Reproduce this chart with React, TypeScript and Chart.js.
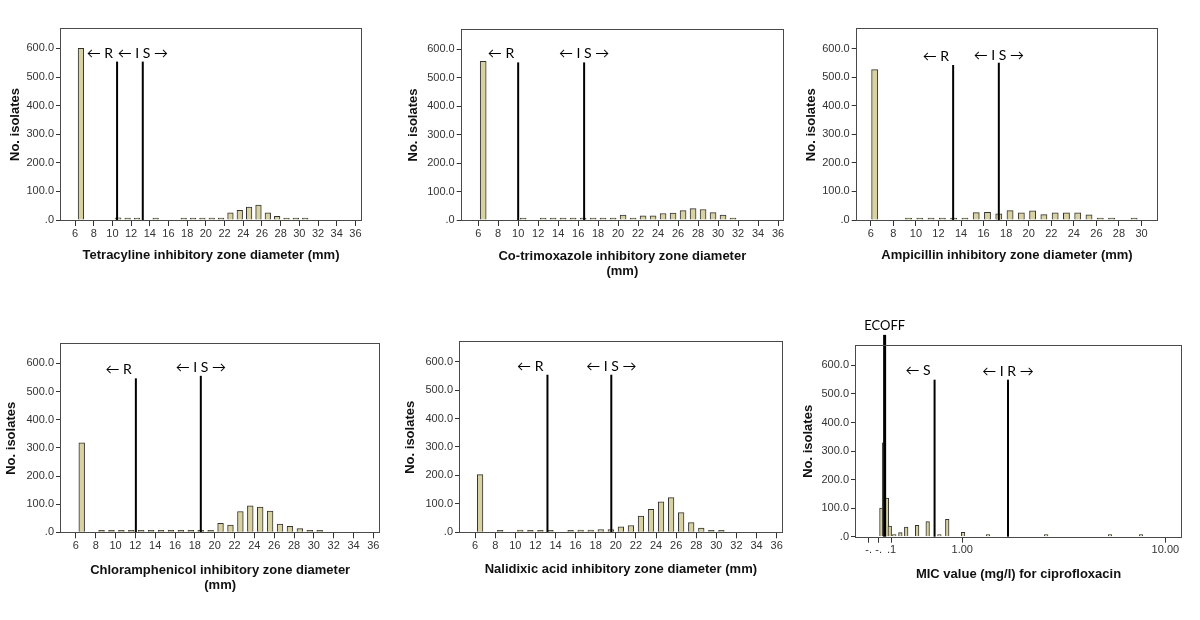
import React, { useEffect, useRef } from "react";
import { Chart, registerables } from "chart.js";

Chart.register(...registerables);
Chart.defaults.font.family = "'Liberation Sans', Arial, sans-serif";

// ---------------- data ----------------
const zoneDiameters = [6, 7, 8, 9, 10, 11, 12, 13, 14, 15, 16, 17, 18, 19, 20, 21, 22, 23, 24, 25, 26, 27, 28, 29, 30, 31, 32, 33, 34, 35, 36];
const ampicillinDiameters = [6, 7, 8, 9, 10, 11, 12, 13, 14, 15, 16, 17, 18, 19, 20, 21, 22, 23, 24, 25, 26, 27, 28, 29, 30];
const zoneTicks = [6, 8, 10, 12, 14, 16, 18, 20, 22, 24, 26, 28, 30, 32, 34, 36];
const ampicillinTicks = [6, 8, 10, 12, 14, 16, 18, 20, 22, 24, 26, 28, 30];
const countTicks = [0, 100, 200, 300, 400, 500, 600];

const tetracyclineCounts = [600, 0, 0, 0, 8, 3, 3, 0, 2, 0, 0, 1, 2, 2, 5, 2, 25, 34, 45, 52, 25, 13, 2, 2, 1, 0, 0, 0, 0, 0, 0];
const cotrimoxazoleCounts = [558, 0, 0, 0, 3, 0, 1, 1, 1, 1, 3, 4, 2, 4, 17, 3, 15, 15, 23, 24, 33, 40, 37, 26, 17, 1, 0, 0, 0, 0, 0];
const ampicillinCounts = [527, 0, 0, 1, 1, 1, 1, 2, 6, 26, 27, 22, 33, 25, 32, 19, 25, 25, 25, 18, 4, 6, 0, 2, 0];
const chloramphenicolCounts = [318, 0, 4, 1, 4, 1, 1, 2, 1, 2, 1, 1, 4, 7, 32, 26, 74, 94, 90, 75, 29, 21, 13, 1, 3, 0, 0, 0, 0, 0, 0];
const nalidixicCounts = [203, 0, 2, 0, 8, 1, 3, 1, 0, 2, 8, 8, 10, 10, 19, 24, 57, 81, 107, 122, 69, 34, 15, 6, 4, 0, 0, 0, 0, 0, 0];

const micValues = [0.4, 0.412, 0.426, 0.44, 0.463, 0.496, 0.53, 0.6, 0.676, 0.772, 0.844, 1.01, 1.34, 2.59, 5.34, 7.59];
const micCounts = [100, 329, 135, 37, 6, 14, 34, 40, 53, 2, 61, 15, 4, 3, 1, 1];
const micTickValues = [0.346, 0.388, 0.449, 1, 10];
const micTickLabels = ["-.", "-.", ".1", "1.00", "10.00"];

const tetracyclineBreaks = [10.5, 13.25];
const tetracyclineBreakTops = [554, 554];
const tetracyclineLabels = ["\u2190 R", "\u2190 I S \u2192"];
const tetracyclineLabelLevels = [584, 584];

const cotrimoxazoleBreaks = [10.0, 16.6];
const cotrimoxazoleBreakTops = [554, 554];
const cotrimoxazoleLabels = ["\u2190 R", "\u2190 I S \u2192"];
const cotrimoxazoleLabelLevels = [584, 584];

const ampicillinBreaks = [13.3, 17.35];
const ampicillinBreakTops = [543, 551];
const ampicillinLabels = ["\u2190 R", "\u2190 I S \u2192"];
const ampicillinLabelLevels = [574, 578];

const chloramphenicolBreaks = [12.05, 18.6];
const chloramphenicolBreakTops = [547, 556];
const chloramphenicolLabels = ["\u2190 R", "\u2190 I S \u2192"];
const chloramphenicolLabelLevels = [579, 585];

const nalidixicBreaks = [13.2, 19.55];
const nalidixicBreakTops = [554, 554];
const nalidixicLabels = ["\u2190 R", "\u2190 I S \u2192"];
const nalidixicLabelLevels = [583, 583];

const ciproBreaks = [0.415, 0.731, 1.68];
const ciproBreakTops = [707, 550, 550];
const ciproLabels = ["ECOFF", "\u2190 S", "\u2190 I R \u2192"];
const ciproLabelLevels = [739, 581, 580];

// ---------------- layout / style ----------------
type Panel = {
  key: string;
  left: number; top: number; width: number; height: number;
  padTop: number; padRight: number; yAxisWidth: number; xAxisHeight: number;
  yTitlePad: number; xTitlePad: number;
  xTitle: string | string[];
  categories: number[]; counts: number[]; ticks: number[]; tickLabels: string[];
  xMin: number; xMax: number; barShift: number; barFraction: number;
  log?: boolean;
  breaks: number[]; breakTops: number[]; breakWidths: number[];
  labels: string[]; labelLevels: number[]; labelAligns: string[]; labelSizes: number[];
};

const Y_MAX = 668;

const PANELS: Panel[] = [
  {
    key: "tet", left: 0, top: 0, width: 400, height: 300,
    padTop: 29, padRight: 39, yAxisWidth: 61, xAxisHeight: 80, yTitlePad: 7.2, xTitlePad: 37.1,
    xTitle: "Tetracyline inhibitory zone diameter (mm)",
    categories: zoneDiameters, counts: tetracyclineCounts, ticks: zoneTicks, tickLabels: zoneTicks.map(String),
    xMin: 4.5, xMax: 36.6, barShift: 0.33, barFraction: 0.6,
    breaks: tetracyclineBreaks, breakTops: tetracyclineBreakTops, breakWidths: [2, 2],
    labels: tetracyclineLabels, labelLevels: tetracyclineLabelLevels, labelAligns: ["right", "center"], labelSizes: [14, 14],
  },
  {
    key: "cot", left: 400, top: 0, width: 400, height: 300,
    padTop: 30, padRight: 17, yAxisWidth: 61.7, xAxisHeight: 80, yTitlePad: 5.5, xTitlePad: 20.2,
    xTitle: ["Co-trimoxazole inhibitory zone diameter", "(mm)"],
    categories: zoneDiameters, counts: cotrimoxazoleCounts, ticks: zoneTicks, tickLabels: zoneTicks.map(String),
    xMin: 4.35, xMax: 36.5, barShift: 0.2, barFraction: 0.6,
    breaks: cotrimoxazoleBreaks, breakTops: cotrimoxazoleBreakTops, breakWidths: [2, 2],
    labels: cotrimoxazoleLabels, labelLevels: cotrimoxazoleLabelLevels, labelAligns: ["right", "center"], labelSizes: [14, 14],
  },
  {
    key: "amp", left: 800, top: 0, width: 400, height: 300,
    padTop: 29.3, padRight: 42.7, yAxisWidth: 56.7, xAxisHeight: 80, yTitlePad: 3.9, xTitlePad: 37.1,
    xTitle: "Ampicillin inhibitory zone diameter (mm)",
    categories: ampicillinDiameters, counts: ampicillinCounts, ticks: ampicillinTicks, tickLabels: ampicillinTicks.map(String),
    xMin: 4.75, xMax: 31.4, barShift: 0.07, barFraction: 0.55,
    breaks: ampicillinBreaks, breakTops: ampicillinBreakTops, breakWidths: [2, 2],
    labels: ampicillinLabels, labelLevels: ampicillinLabelLevels, labelAligns: ["right", "center"], labelSizes: [14, 14],
  },
  {
    key: "chl", left: 0, top: 300, width: 400, height: 320,
    padTop: 44.3, padRight: 20.7, yAxisWidth: 61, xAxisHeight: 87.7, yTitlePad: 3.9, xTitlePad: 26.2,
    xTitle: ["Chloramphenicol inhibitory zone diameter", "(mm)"],
    categories: zoneDiameters, counts: chloramphenicolCounts, ticks: zoneTicks, tickLabels: zoneTicks.map(String),
    xMin: 4.5, xMax: 36.6, barShift: 0.3, barFraction: 0.58,
    breaks: chloramphenicolBreaks, breakTops: chloramphenicolBreakTops, breakWidths: [2, 2],
    labels: chloramphenicolLabels, labelLevels: chloramphenicolLabelLevels, labelAligns: ["right", "center"], labelSizes: [14, 14],
  },
  {
    key: "nal", left: 400, top: 300, width: 400, height: 320,
    padTop: 42.3, padRight: 18.3, yAxisWidth: 60, xAxisHeight: 87.7, yTitlePad: 2.2, xTitlePad: 42.8,
    xTitle: "Nalidixic acid inhibitory zone diameter (mm)",
    categories: zoneDiameters, counts: nalidixicCounts, ticks: zoneTicks, tickLabels: zoneTicks.map(String),
    xMin: 4.5, xMax: 36.5, barShift: 0.22, barFraction: 0.56,
    breaks: nalidixicBreaks, breakTops: nalidixicBreakTops, breakWidths: [2, 2],
    labels: nalidixicLabels, labelLevels: nalidixicLabelLevels, labelAligns: ["right", "center"], labelSizes: [14, 14],
  },
  {
    key: "cip", left: 800, top: 300, width: 400, height: 320,
    padTop: 46, padRight: 19, yAxisWidth: 56, xAxisHeight: 83.3, yTitlePad: 0.5, xTitlePad: 38.1,
    xTitle: "MIC value (mg/l) for ciprofloxacin",
    categories: micValues, counts: micCounts, ticks: micTickValues, tickLabels: micTickLabels,
    xMin: 0.3286, xMax: 11.94, barShift: 0, barFraction: 0, log: true,
    breaks: ciproBreaks, breakTops: ciproBreakTops, breakWidths: [3, 2, 2],
    labels: ciproLabels, labelLevels: ciproLabelLevels, labelAligns: ["center", "right", "center"], labelSizes: [13, 14, 14],
  },
];

function annotationPlugin(p: Panel) {
  return {
    id: "annot-" + p.key,
    afterDatasetsDraw(chart: any) {
      const { ctx, chartArea: a } = chart;
      const xs = chart.scales.x;
      const ys = chart.scales.y;
      ctx.save();
      ctx.strokeStyle = "#4a4a4a";
      ctx.lineWidth = 1;
      const l = Math.round(a.left), t = Math.round(a.top), r = Math.round(a.right), b = Math.round(a.bottom);
      ctx.strokeRect(l - 0.5, t - 0.5, r - l + 1, b - t + 1);
      ctx.fillStyle = "#000";
      ctx.textBaseline = "middle";
      p.labels.forEach((text, i) => {
        const px = xs.getPixelForValue(p.breaks[i]);
        const py = ys.getPixelForValue(p.labelLevels[i]);
        const align = p.labelAligns[i];
        ctx.font = `${p.labelSizes[i]}px Lato, 'DejaVu Sans', sans-serif`;
        ctx.textAlign = align === "right" ? "right" : "center";
        ctx.fillText(text, align === "right" ? px - 4 : px, py);
      });
      ctx.restore();
    },
  };
}

function buildConfig(p: Panel): any {
  const barData = p.categories.map((c, i) => ({ x: c, y: p.counts[i] === 0 ? null : p.counts[i] }));
  const plotWidth = p.width - p.padRight - p.yAxisWidth;
  const thickness = p.log ? 3.6 : (p.barFraction * plotWidth) / (p.xMax - p.xMin);
  const barDataset: any = {
    type: "bar",
    xAxisID: p.log ? "x" : "xb",
    yAxisID: "y",
    data: barData,
    backgroundColor: "#D8D1A2",
    borderColor: "#333",
    borderWidth: 1,
    minBarLength: 2,
    barThickness: thickness,
    order: 2,
  };

  const lineDatasets = p.breaks.map((bk, i) => ({
    type: "line",
    xAxisID: "x",
    yAxisID: "y",
    data: [{ x: bk, y: 0 }, { x: bk, y: p.breakTops[i] }],
    borderColor: "#000",
    borderWidth: p.breakWidths[i],
    pointRadius: 0,
    fill: false,
    clip: false,
    order: 1,
  }));

  const scales: any = {
    x: {
      type: p.log ? "logarithmic" : "linear",
      position: "bottom",
      min: p.xMin,
      max: p.xMax,
      offset: false,
      afterBuildTicks: (s: any) => { s.ticks = p.ticks.map((v) => ({ value: v })); },
      afterFit: (s: any) => { s.height = p.xAxisHeight; },
      grid: { display: true, drawOnChartArea: false, drawTicks: true, tickLength: 6, color: "#333", offset: false },
      border: { display: false },
      ticks: {
        autoSkip: false, maxRotation: 0, minRotation: 0, padding: 1, color: "#333",
        font: { size: 11 },
        callback: (_v: any, i: number) => p.tickLabels[i],
      },
      title: {
        display: true, text: p.xTitle, color: "#111",
        font: { size: 13, weight: "bold", lineHeight: 1.22 },
        padding: { top: 0, bottom: p.xTitlePad },
      },
    },
    y: {
      type: "linear",
      position: "left",
      min: 0,
      max: Y_MAX,
      afterBuildTicks: (s: any) => { s.ticks = countTicks.map((v) => ({ value: v })); },
      afterFit: (s: any) => { s.width = p.yAxisWidth; },
      grid: { display: true, drawOnChartArea: false, drawTicks: true, tickLength: 5, color: "#333" },
      border: { display: false },
      ticks: {
        padding: 2, color: "#333", font: { size: 11 },
        callback: (v: any) => (Number(v) === 0 ? ".0" : Number(v).toFixed(1)),
      },
      title: {
        display: true, text: "No. isolates", color: "#111",
        font: { size: 13, weight: "bold", lineHeight: 1.2 },
        padding: { top: p.yTitlePad, bottom: 0 },
      },
    },
  };
  if (!p.log) {
    scales.xb = {
      type: "linear",
      axis: "x",
      position: "bottom",
      display: false,
      offset: false,
      min: p.xMin - p.barShift,
      max: p.xMax - p.barShift,
      grid: { offset: false },
      ticks: { includeBounds: false, stepSize: 5 },
    };
  }

  return {
    type: "bar",
    data: { datasets: [...lineDatasets, barDataset] },
    options: {
      responsive: false,
      maintainAspectRatio: false,
      animation: false,
      devicePixelRatio: 1,
      events: [],
      layout: { padding: { left: 0, top: p.padTop, right: p.padRight, bottom: 0 } },
      plugins: { legend: { display: false }, tooltip: { enabled: false }, title: { display: false } },
      scales,
    },
    plugins: [annotationPlugin(p)],
  };
}

function PanelChart({ p }: { p: Panel }) {
  const ref = useRef<HTMLCanvasElement>(null);
  useEffect(() => {
    if (!ref.current) return;
    const chart = new Chart(ref.current, buildConfig(p));
    return () => chart.destroy();
  }, [p]);
  return (
    <canvas
      ref={ref}
      width={p.width}
      height={p.height}
      style={{ position: "absolute", left: p.left, top: p.top, width: p.width, height: p.height }}
    />
  );
}

export default function App() {
  return (
    <div style={{ position: "absolute", left: 0, top: 0, width: 1200, height: 620, background: "#fff", overflow: "hidden" }}>
      {PANELS.map((p) => (
        <PanelChart key={p.key} p={p} />
      ))}
    </div>
  );
}
